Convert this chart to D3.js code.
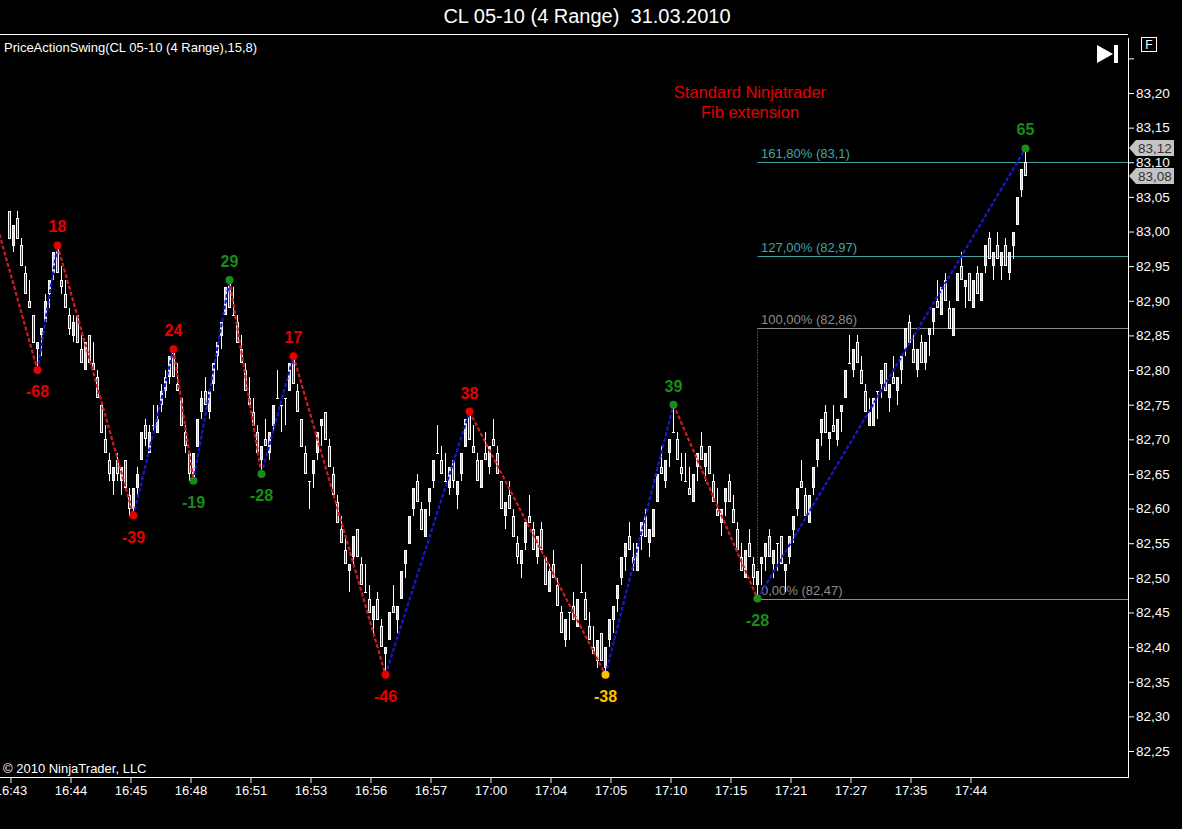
<!DOCTYPE html>
<html>
<head>
<meta charset="utf-8">
<script src="https://cdn.jsdelivr.net/npm/d3@7"></script>
<style>
  body { margin: 0; background: #000; }
  svg { display: block; font-family: Arial, "Liberation Sans", sans-serif; }
</style>
</head>
<body>
<div id="caja"></div>
<script>
// precios en centavos por encima de 82,00  -> [open, high, low, close]
var base = 82;
var bars = [
  [103,103,99,99],[98,101,97,101],[102,103,99,99],[98,99,95,95],[94,95,91,91],
  [90,93,89,89],[88,88,84,84],[83,84,80,84],[85,86,82,86],[87,91,87,90],
  [91,93,89,93],[94,97,93,97],[98,98,94,94],[93,95,91,92],[91,93,89,89],
  [88,89,85,86],[85,88,84,87],[88,88,84,84],[83,85,81,81],[80,84,80,84],
  [85,85,81,81],[81,84,80,80],[79,80,76,76],[75,75,71,71],[70,72,68,68],
  [67,68,64,65],[64,66,62,66],[67,68,64,65],[64,66,62,66],[67,67,63,63],
  [62,63,59,60],[60,63,59,63],[63,66,62,65],[67,71,67,71],[72,73,69,70],
  [68,72,68,71],[72,75,71,72],[71,75,71,73],[75,78,74,77],[77,80,76,79],
  [79,82,78,82],[83,83,79,79],[78,81,77,77],[76,76,72,72],[71,72,68,69],
  [68,68,64,65],[64,68,64,68],[69,73,69,73],[74,77,73,76],[77,79,75,75],
  [74,77,73,77],[78,81,77,81],[82,84,80,84],[85,87,83,87],[88,92,88,92],
  [93,93,89,89],[88,92,88,88],[87,88,84,84],[83,85,81,81],[80,81,77,77],
  [76,79,75,75],[74,76,72,72],[71,72,68,68],[67,69,65,69],[70,73,69,69],
  [68,71,67,71],[72,75,71,75],[76,80,76,76],[75,75,71,75],[76,76,72,76],
  [77,81,77,81],[82,82,78,78],[77,78,74,74],[73,73,69,69],[68,69,65,65],
  [64,64,60,64],[65,67,63,67],[68,71,67,71],[72,73,69,73],[74,74,70,70],
  [69,70,66,66],[65,66,62,62],[61,62,58,58],[57,59,55,55],[54,56,52,52],
  [51,52,48,52],[53,56,52,56],[57,57,53,53],[52,53,49,49],[48,52,48,48],
  [47,49,45,45],[44,46,42,46],[47,48,44,44],[43,44,40,40],[39,40,36,40],
  [41,45,41,45],[46,49,45,45],[44,46,42,46],[47,51,47,51],[52,54,50,54],
  [55,59,55,59],[60,63,59,63],[64,65,61,61],[60,61,57,57],[56,60,56,60],
  [61,63,59,63],[64,67,63,67],[68,72,68,68],[67,69,65,65],[64,68,64,64],
  [63,66,62,66],[67,67,63,64],[62,64,60,64],[65,68,64,68],[69,73,69,73],
  [74,74,70,70],[69,72,68,68],[67,68,64,64],[63,67,63,67],[68,71,67,67],
  [66,69,65,69],[70,73,69,69],[68,69,65,65],[64,64,60,60],[59,61,57,61],
  [62,64,60,60],[59,60,56,56],[55,56,52,53],[52,54,50,54],[55,58,54,58],
  [59,62,58,58],[57,58,54,54],[53,56,52,56],[57,58,54,54],[53,53,49,49],
  [48,52,48,51],[52,54,50,50],[49,50,46,46],[45,46,42,42],[41,44,40,44],
  [45,45,41,45],[46,48,44,44],[43,47,43,47],[48,52,48,48],[47,48,44,44],
  [43,45,41,41],[40,43,39,39],[38,41,37,41],[42,42,38,38],[37,40,36,40],
  [41,44,40,44],[44,46,42,46],[47,49,45,49],[50,53,49,53],[53,55,51,55],
  [56,58,54,54],[53,55,51,52],[51,55,51,55],[56,58,54,58],[59,60,56,56],
  [55,57,53,57],[56,60,56,60],[61,65,61,65],[66,69,65,65],[64,67,63,67],
  [68,70,66,70],[71,75,71,71],[70,71,67,67],[66,68,64,65],[64,68,64,64],
  [63,66,62,62],[61,65,61,65],[66,68,64,68],[69,71,67,67],[66,68,64,68],
  [69,69,65,65],[64,65,61,61],[60,63,59,59],[58,60,56,60],[61,63,59,63],
  [64,65,61,61],[60,62,58,58],[57,58,54,54],[53,55,51,51],[50,54,50,54],
  [55,57,53,53],[52,53,49,50],[49,51,47,51],[52,53,49,53],[53,55,51,55],
  [56,57,53,53],[52,54,50,54],[55,55,51,55],[56,56,52,52],[51,52,48,52],
  [53,56,52,56],[57,59,55,59],[60,63,59,63],[64,67,63,63],[62,63,59,59],
  [58,62,58,62],[63,66,62,66],[67,70,66,70],[71,73,69,73],[74,75,71,71],
  [70,71,67,71],[72,75,71,71],[70,73,69,73],[74,75,71,75],[76,80,76,80],
  [81,85,81,81],[80,83,79,83],[84,85,81,81],[80,82,78,78],[77,78,74,74],
  [72,76,72,74],[72,76,72,76],[77,77,73,77],[78,80,76,80],[81,81,77,77],
  [76,78,74,78],[79,82,78,78],[77,79,75,79],[80,82,78,82],[83,86,82,86],
  [87,88,84,84],[83,85,81,81],[80,83,79,83],[84,85,81,81],[81,84,80,84],
  [85,86,82,86],[87,89,85,89],[90,93,89,89],[88,92,88,92],[93,94,90,90],
  [89,90,86,86],[85,89,85,89],[90,94,90,94],[95,97,93,93],[92,93,89,93],
  [94,94,90,90],[89,93,89,93],[94,95,91,91],[90,94,90,94],[95,98,94,98],
  [99,100,96,96],[95,97,93,97],[98,100,96,96],[95,97,93,97],[98,99,95,95],
  [94,97,93,97],[98,100,96,100],[101,105,101,105],[106,109,105,109],[110,112,108,108]
];

// etiquetas de tiempo (una cada 15 barras)
var timeLabels = ["16:43","16:44","16:45","16:48","16:51","16:53","16:56","16:57",
  "17:00","17:04","17:05","17:10","17:15","17:21","17:27","17:35","17:44"];
var timeBars = [0,15,30,45,60,75,90,105,120,135,150,165,180,195,210,225,240];

// eje de precios
var yTicks = [82.25,82.30,82.35,82.40,82.45,82.50,82.55,82.60,82.65,82.70,82.75,
  82.80,82.85,82.90,82.95,83.00,83.05,83.10,83.15,83.20,83.25];

// swings del PriceActionSwing (el primero queda fuera de la vista)
var swingBar   = [-26, 7, 12, 31, 41, 46, 55, 63, 71, 94, 115, 149, 166, 187, 254];
var swingPrice = [148, 80, 98, 59, 83, 64, 93, 65, 82, 36, 74, 36, 75, 47, 112];
var swingText  = ["", "-68", "18", "-39", "24", "-19", "29", "-28", "17", "-46", "38", "-38", "39", "-28", "65"];
var swingType  = ["", "LL", "LH", "LL", "LH", "HL", "HH", "HL", "LH", "LL", "LH", "DB", "HH", "HL", "HH"];

// fib extension
var fibPrices = [82.47, 82.86, 82.965, 83.101];
var fibText   = ["0,00% (82,47)", "100,00% (82,86)", "127,00% (82,97)", "161,80% (83,1)"];
var fibColor  = ["#8c8c8c", "#8c8c8c", "#3fa6a6", "#3fa6a6"];

// marcas de precio en el eje
var priceMarks = [83.12, 83.08];

var w = 1182, h = 829;
var plotRight = 1128, plotTop = 34, plotBottom = 777;

var svg = d3.select('#caja')
  .append('svg')
  .attr('width', w)
  .attr('height', h)
  .style('background', '#000');

var x = d3.scaleLinear().domain([0, 254]).range([10, 1026]);
var y = d3.scaleLinear().domain([82.25, 83.20]).range([751, 93]);
function py(c) { return y(base + c / 100); }
function px(i) { return Math.round(x(i)) - 0.5; }

var swingColors = { LL: "#e60000", LH: "#e60000", HH: "#1a8c1a", HL: "#1a8c1a", DB: "#ffc000" };

svg.append('clipPath').attr('id', 'plot')
  .append('rect').attr('x', 0).attr('y', plotTop)
  .attr('width', plotRight).attr('height', plotBottom - plotTop);

var plot = svg.append('g').attr('clip-path', 'url(#plot)');

// titulo
svg.append('text')
  .attr('x', 587).attr('y', 23)
  .attr('text-anchor', 'middle')
  .attr('fill', '#fff')
  .style('font-size', '20px')
  .style('white-space', 'pre')
  .text('CL 05-10 (4 Range)  31.03.2010');

// marco
svg.append('line').attr('x1', 0).attr('x2', plotRight).attr('y1', plotTop + 0.5).attr('y2', plotTop + 0.5)
  .attr('stroke', '#fff');
svg.append('line').attr('x1', plotRight + 0.5).attr('x2', plotRight + 0.5).attr('y1', 38).attr('y2', plotBottom)
  .attr('stroke', '#fff');

// fib extension
var fib = plot.append('g');
fib.append('line')
  .attr('x1', px(187)).attr('x2', px(187))
  .attr('y1', Math.round(y(fibPrices[1])) + 0.5).attr('y2', Math.round(y(fibPrices[0])) + 0.5)
  .attr('stroke', '#8c8c8c').attr('stroke-dasharray', '1,2');
fib.selectAll('line.lvl')
  .data(fibPrices)
  .enter()
  .append('line')
  .attr('class', 'lvl')
  .attr('x1', px(187)).attr('x2', plotRight)
  .attr('y1', function(d) { return Math.round(y(d)) + 0.5; })
  .attr('y2', function(d) { return Math.round(y(d)) + 0.5; })
  .attr('stroke', function(d, i) { return fibColor[i]; });

// velas
var candles = plot.append('g').attr('shape-rendering', 'crispEdges');
candles.selectAll('line.wick')
  .data(bars)
  .enter()
  .append('line')
  .attr('class', 'wick')
  .attr('x1', function(d, i) { return px(i); })
  .attr('x2', function(d, i) { return px(i); })
  .attr('y1', function(d) { return py(d[1]); })
  .attr('y2', function(d) { return py(d[2]); })
  .attr('stroke', '#fff');

var bodies = bars.map(function(d, i) { return { d: d, i: i }; })
  .filter(function(b) { return b.d[0] !== b.d[3]; });

// contorno blanco
candles.selectAll('rect.edge')
  .data(bodies)
  .enter()
  .append('rect')
  .attr('class', 'edge')
  .attr('x', function(b) { return px(b.i) - 1.5; })
  .attr('width', 3)
  .attr('y', function(b) { return Math.round(py(Math.max(b.d[0], b.d[3]))); })
  .attr('height', function(b) { return Math.round(Math.abs(py(b.d[0]) - py(b.d[3]))); })
  .attr('fill', '#fff');

// relleno
candles.selectAll('rect.body')
  .data(bodies)
  .enter()
  .append('rect')
  .attr('class', 'body')
  .attr('x', function(b) { return px(b.i) - 0.5; })
  .attr('width', 1)
  .attr('y', function(b) { return Math.round(py(Math.max(b.d[0], b.d[3]))) + 1; })
  .attr('height', function(b) { return Math.round(Math.abs(py(b.d[0]) - py(b.d[3]))) - 2; })
  .attr('fill', function(b) { return b.d[3] > b.d[0] ? '#bfe0bf' : '#d0142a'; });

candles.selectAll('line.doji')
  .data(bars.map(function(d, i) { return { d: d, i: i }; }).filter(function(b) { return b.d[0] === b.d[3]; }))
  .enter()
  .append('line')
  .attr('class', 'doji')
  .attr('x1', function(b) { return px(b.i) - 1.5; })
  .attr('x2', function(b) { return px(b.i) + 1.5; })
  .attr('y1', function(b) { return Math.round(py(b.d[0])) + 0.5; })
  .attr('y2', function(b) { return Math.round(py(b.d[0])) + 0.5; })
  .attr('stroke', '#fff');

// lineas de swing
var segs = d3.range(swingBar.length - 1);
plot.append('g').selectAll('line')
  .data(segs)
  .enter()
  .append('line')
  .attr('x1', function(k) { return px(swingBar[k]); })
  .attr('y1', function(k) { return py(swingPrice[k]); })
  .attr('x2', function(k) { return px(swingBar[k + 1]); })
  .attr('y2', function(k) { return py(swingPrice[k + 1]); })
  .attr('stroke', function(k) { return swingPrice[k + 1] > swingPrice[k] ? '#1818d0' : '#d01c1c'; })
  .attr('stroke-width', 2.2)
  .attr('stroke-dasharray', '4,2');

// puntos y valores de swing
var pts = d3.range(1, swingBar.length);
plot.append('g').selectAll('circle')
  .data(pts)
  .enter()
  .append('circle')
  .attr('cx', function(k) { return px(swingBar[k]); })
  .attr('cy', function(k) { return py(swingPrice[k]); })
  .attr('r', 4)
  .attr('fill', function(k) { return swingColors[swingType[k]]; });

plot.append('g').selectAll('text')
  .data(pts)
  .enter()
  .append('text')
  .text(function(k) { return swingText[k]; })
  .attr('x', function(k) { return px(swingBar[k]); })
  .attr('y', function(k) {
    var up = swingType[k] === 'LH' || swingType[k] === 'HH';
    return py(swingPrice[k]) + (up ? -13 : 27);
  })
  .attr('text-anchor', 'middle')
  .attr('fill', function(k) { return swingColors[swingType[k]]; })
  .style('font-size', '16px')
  .style('font-weight', 'bold');

// textos fib
fib.selectAll('text')
  .data(fibPrices)
  .enter()
  .append('text')
  .text(function(d, i) { return fibText[i]; })
  .attr('x', 761)
  .attr('y', function(d) { return Math.round(y(d)) - 4; })
  .attr('fill', function(d, i) { return fibColor[i]; })
  .style('font-size', '13px');

// nota
svg.append('text').attr('x', 750).attr('y', 98).attr('text-anchor', 'middle')
  .attr('fill', '#e60000').style('font-size', '16.5px').text('Standard Ninjatrader');
svg.append('text').attr('x', 750).attr('y', 118).attr('text-anchor', 'middle')
  .attr('fill', '#e60000').style('font-size', '16.5px').text('Fib extension');

// indicador y copyright
svg.append('text').attr('x', 4).attr('y', 52).attr('fill', '#fff')
  .style('font-size', '13px').text('PriceActionSwing(CL 05-10 (4 Range),15,8)');
svg.append('text').attr('x', 3).attr('y', 773).attr('fill', '#fff')
  .style('font-size', '13px').text('\u00a9 2010 NinjaTrader, LLC');

// eje y
var yAxis = d3.axisRight(y)
  .tickValues(yTicks)
  .tickSize(6)
  .tickPadding(2)
  .tickFormat(function(d) { return d > 83.22 ? '' : d3.format('.2f')(d).replace('.', ','); });
var gy = svg.append('g').attr('transform', 'translate(' + plotRight + ',0)').call(yAxis);
gy.select('.domain').remove();
gy.selectAll('line').attr('stroke', '#fff');
gy.selectAll('text').attr('fill', '#fff').style('font-size', '13.5px')
  .style('font-family', 'Arial, "Liberation Sans", sans-serif');

// marcas de precio
var marks = svg.append('g').selectAll('g')
  .data(priceMarks)
  .enter()
  .append('g')
  .attr('transform', function(d) { return 'translate(' + (plotRight + 1) + ',' + Math.round(y(d)) + ')'; });
marks.append('path')
  .attr('d', 'M0,0 L7,-8 L45,-8 L45,8 L7,8 Z')
  .attr('fill', '#c4c4c4');
marks.append('text')
  .text(function(d) { return d3.format('.2f')(d).replace('.', ','); })
  .attr('x', 26).attr('y', 5)
  .attr('text-anchor', 'middle')
  .attr('fill', '#333')
  .style('font-size', '13.5px');

// eje x
var xAxis = d3.axisBottom(x)
  .tickValues(timeBars)
  .tickSize(6)
  .tickPadding(3)
  .tickFormat(function(d, i) { return timeLabels[i]; });
var gx = svg.append('g').attr('transform', 'translate(0.5,' + plotBottom + ')').call(xAxis);
gx.select('.domain').remove();
gx.selectAll('line').attr('stroke', '#fff');
gx.selectAll('text').attr('fill', '#fff').style('font-size', '13px')
  .style('font-family', 'Arial, "Liberation Sans", sans-serif');
svg.append('line').attr('x1', 0).attr('x2', plotRight + 1).attr('y1', plotBottom + 0.5).attr('y2', plotBottom + 0.5)
  .attr('stroke', '#fff');

// iconos arriba a la derecha
svg.append('path').attr('d', 'M1097,45 L1113,54 L1097,63 Z').attr('fill', '#fff');
svg.append('rect').attr('x', 1114).attr('y', 45).attr('width', 4).attr('height', 18).attr('fill', '#fff');
svg.append('rect').attr('x', 1141.5).attr('y', 37.5).attr('width', 15).attr('height', 14)
  .attr('fill', 'none').attr('stroke', '#fff');
svg.append('text').attr('x', 1149).attr('y', 49).attr('text-anchor', 'middle')
  .attr('fill', '#fff').style('font-size', '12px').text('F');
</script>
</body>
</html>
